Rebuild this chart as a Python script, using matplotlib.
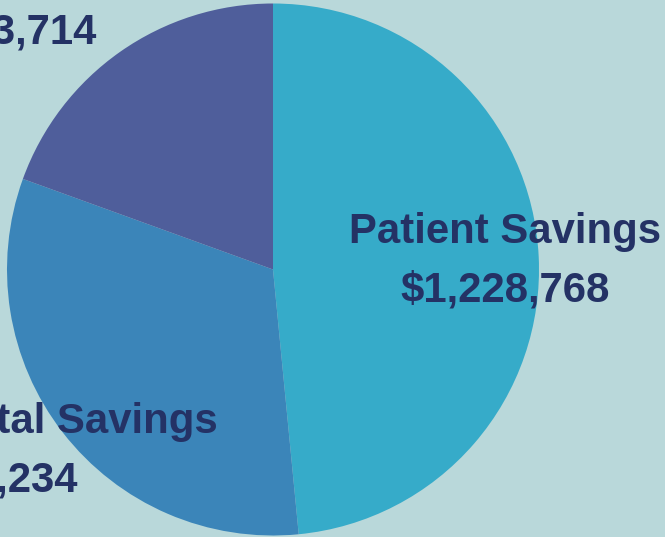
import matplotlib
matplotlib.use("Agg")
from matplotlib import pyplot as plt

# savings split
categories = ["Patient Savings", "Hospital Savings", "Other Savings"]
values = [1228768, 813234, 493714]
colors = ["#36abc9", "#3b85b9", "#4f5e9b"]

bg = "#b9d8da"
txt = "#243265"

fig = plt.figure(figsize=(6.65, 5.37), dpi=100)
fig.patch.set_facecolor(bg)
ax = fig.add_axes([0, 0, 1, 1])
ax.set_facecolor(bg)

ax.pie(values, colors=colors, startangle=90, counterclock=False,
       radius=1, center=(0, 0), wedgeprops=dict(linewidth=0))

# pixel -> data helpers (center at px 273, 269.5, radius 266px)
cx, cy, r = 273, 269.5, 266.0
ax.set_xlim(-cx / r, (665 - cx) / r)
ax.set_ylim(-(537 - cy) / r, cy / r)
ax.set_aspect("auto")
ax.axis("off")


def px(x, y):
    return (x - cx) / r, (cy - y) / r


font = dict(family=["Liberation Sans", "DejaVu Sans"], fontweight="bold",
            fontsize=30.2, color=txt, va="baseline")


def money(v):
    return "${:,}".format(v)


# patient label, centered
ax.text(*px(505, 243), categories[0], ha="center", **font)
ax.text(*px(505, 302), money(values[0]), ha="center", **font)
# hospital label, runs off left edge
ax.text(*px(218, 433), categories[1], ha="right", **font)
ax.text(*px(78, 492), money(values[1]), ha="right", **font)
# third slice value, runs off top-left
ax.text(*px(97, 43), money(values[2]), ha="right", **font)

fig.savefig("out.png", dpi=100, facecolor=bg)
